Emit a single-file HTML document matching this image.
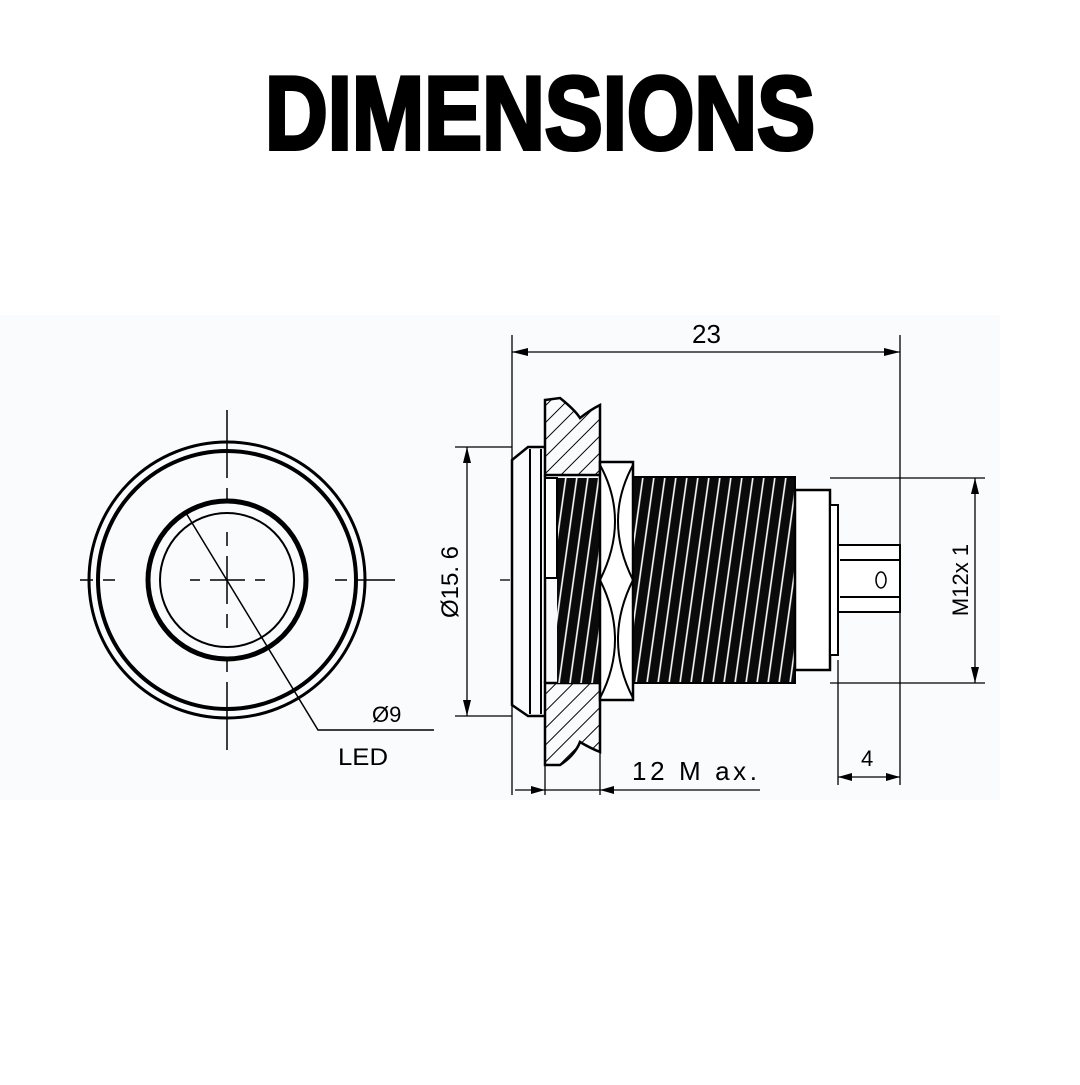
<!DOCTYPE html>
<html><head><style>
html,body{margin:0;padding:0;background:#fff;}
</style></head><body>
<svg width="1080" height="1080" viewBox="0 0 1080 1080" xmlns="http://www.w3.org/2000/svg" font-family="Liberation Sans, sans-serif">
<rect width="1080" height="1080" fill="#fff"/>
<rect x="0" y="315" width="1000" height="485" fill="#f9fbfd"/>
<text x="265" y="149" font-size="104" font-weight="bold" textLength="550" lengthAdjust="spacingAndGlyphs" fill="#000" stroke="#000" stroke-width="4">DIMENSIONS</text>
<g stroke="#000" fill="none">
<circle cx="227" cy="580" r="138" stroke-width="3"/>
<circle cx="227" cy="580" r="129" stroke-width="4"/>
<circle cx="227" cy="580" r="79" stroke-width="5"/>
<circle cx="227" cy="580" r="67" stroke-width="2"/>
<g stroke-width="1.5">
<line x1="227" y1="410" x2="227" y2="478"/><line x1="227" y1="488" x2="227" y2="500"/>
<line x1="227" y1="532" x2="227" y2="546"/><line x1="227" y1="556" x2="227" y2="604"/>
<line x1="227" y1="614" x2="227" y2="628"/><line x1="227" y1="660" x2="227" y2="672"/>
<line x1="227" y1="682" x2="227" y2="750"/>
<line x1="80" y1="580" x2="93" y2="580"/><line x1="103" y1="580" x2="115" y2="580"/>
<line x1="190" y1="580" x2="200" y2="580"/><line x1="210" y1="580" x2="245" y2="580"/>
<line x1="255" y1="580" x2="265" y2="580"/><line x1="335" y1="580" x2="347" y2="580"/>
<line x1="357" y1="580" x2="395" y2="580"/>
<polyline points="186,513 318,730 434,730"/>
</g>
</g>
<text x="372" y="722" font-size="22" fill="#000">Ø9</text>
<text x="338" y="765" font-size="24" fill="#000" textLength="50" lengthAdjust="spacingAndGlyphs">LED</text>
<defs>
<pattern id="h" width="12" height="12" patternUnits="userSpaceOnUse" patternTransform="rotate(45)">
<line x1="0" y1="0" x2="0" y2="12" stroke="#000" stroke-width="2"/>
</pattern>
<pattern id="t" width="11" height="20" patternUnits="userSpaceOnUse" patternTransform="skewX(-8)">
<rect width="11" height="20" fill="#0a0a0a"/>
<line x1="6" y1="0" x2="6" y2="20" stroke="#fff" stroke-width="1.6"/>
</pattern>
</defs>
<g stroke="#000" stroke-width="2.5" fill="none">
<g stroke-width="1.3">
<line x1="512" y1="335" x2="512" y2="795"/>
<line x1="900" y1="335" x2="900" y2="785"/>
<line x1="512" y1="352" x2="900" y2="352"/>
<line x1="455" y1="447" x2="512" y2="447"/>
<line x1="455" y1="716" x2="512" y2="716"/>
<line x1="467" y1="447" x2="467" y2="716"/>
<line x1="830" y1="478" x2="985" y2="478"/>
<line x1="830" y1="683" x2="985" y2="683"/>
<line x1="975" y1="478" x2="975" y2="683"/>
<line x1="838" y1="660" x2="838" y2="785"/>
<line x1="838" y1="777" x2="900" y2="777"/>
<line x1="545" y1="715" x2="545" y2="795"/>
<line x1="600" y1="740" x2="600" y2="795"/>
<line x1="515" y1="790" x2="760" y2="790"/>
<line x1="500" y1="580" x2="510" y2="580"/>
<line x1="795" y1="580" x2="808" y2="580"/>
</g>
<path d="M545 447 L528 447 L512 460 L512 705 L528 716 L545 716" />
<line x1="530" y1="449" x2="530" y2="714" stroke-width="2"/>
<line x1="541" y1="449" x2="541" y2="714" stroke-width="2"/>
<path d="M545 400 L560 398 Q575 410 580 418 Q590 410 600 405 L600 475 L558 475 L545 475 Z" fill="url(#h)"/>
<path d="M545 683 L600 683 L600 752 Q590 748 580 742 Q575 755 560 765 L545 765 Z" fill="url(#h)"/>
<line x1="545" y1="475" x2="545" y2="683"/>
<rect x="557" y="478" width="43" height="205" fill="url(#t)" stroke="none"/>
<rect x="545" y="478" width="12" height="100" fill="#fff" stroke="#000" stroke-width="2"/>
<rect x="600" y="462" width="33" height="238" fill="#fff"/>
<path d="M600 465 Q630 520 600 580 Q630 640 600 698" stroke-width="2"/>
<path d="M633 465 Q603 520 633 580 Q603 640 633 698" stroke-width="2"/>
<rect x="633" y="477" width="162" height="206" fill="url(#t)" stroke-width="2"/>
<rect x="795" y="490" width="35" height="180" fill="#fff"/>
<rect x="830" y="505" width="8" height="150" fill="#fff" stroke-width="2"/>
<rect x="838" y="545" width="62" height="67" fill="#fff" stroke-width="2"/>
<line x1="840" y1="560" x2="900" y2="560" stroke-width="2"/>
<line x1="840" y1="597" x2="900" y2="597" stroke-width="2"/>
<ellipse cx="881" cy="580" rx="5" ry="8" stroke-width="1.5"/>
</g>
<g fill="#000">
<polygon points="512,352 528,348 528,356"/><polygon points="900,352 884,348 884,356"/>
<polygon points="467,447 463,463 471,463"/><polygon points="467,716 463,700 471,700"/>
<polygon points="975,478 971,494 979,494"/><polygon points="975,683 971,667 979,667"/>
<polygon points="838,777 852,773 852,781"/><polygon points="900,777 886,773 886,781"/>
<polygon points="545,790 531,786 531,794"/><polygon points="600,790 614,786 614,794"/>
</g>
<text x="692" y="343" font-size="26" fill="#000">23</text>
<text x="458" y="582" font-size="24" fill="#000" transform="rotate(-90 458 582)" text-anchor="middle">Ø15. 6</text>
<text x="968" y="580" font-size="22" fill="#000" transform="rotate(-90 968 580)" text-anchor="middle">M12x 1</text>
<text x="632" y="780" font-size="26" fill="#000" textLength="125" lengthAdjust="spacing">12 M ax.</text>
<text x="861" y="766" font-size="22" fill="#000">4</text>
</svg>
</body></html>
